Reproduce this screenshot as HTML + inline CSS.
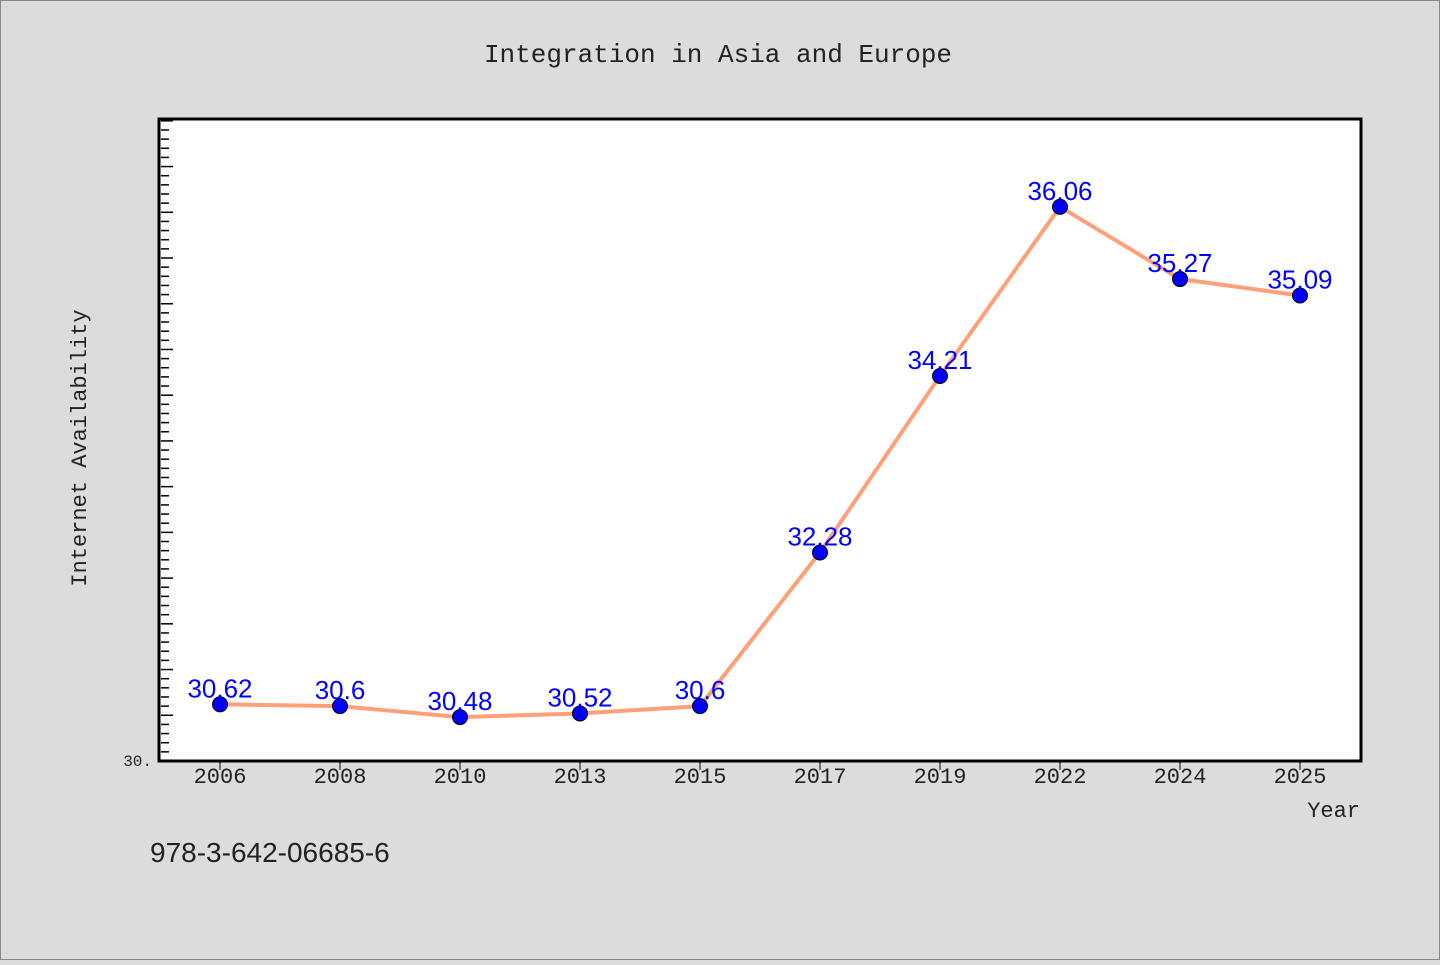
<!DOCTYPE html>
<html><head><meta charset="utf-8"><style>
body{margin:0;background:#dcdcdc;}
svg text{font-family:"Liberation Mono","DejaVu Sans Mono",monospace;}
</style></head><body>
<svg width="1440" height="960">
<rect x="0.5" y="0.5" width="1439" height="959" fill="#dcdcdc" stroke="#888"/>
<text x="718" y="62" font-size="26" text-anchor="middle" fill="#222">Integration in Asia and Europe</text>
<rect x="159" y="119" width="1202" height="642" fill="#fff"/>
<g id="ticks"></g>
<g id="series"></g>
<rect x="159" y="119" width="1202" height="642" fill="none" stroke="#000" stroke-width="3"/>
<text x="152" y="766" font-size="16" text-anchor="end" fill="#222">30.</text>
<text x="86" y="448" font-size="22" text-anchor="middle" fill="#222" transform="rotate(-90 86 448)">Internet Availability</text>
<text x="1360" y="817" font-size="22" text-anchor="end" fill="#222">Year</text>
<text x="150" y="862" font-size="28" fill="#222" font-family="Liberation Sans, sans-serif" style="font-family:'Liberation Sans',sans-serif">978-3-642-06685-6</text>
</svg>
<script>
const categories=["2006","2008","2010","2013","2015","2017","2019","2022","2024","2025"];
const values=[30.62,30.6,30.48,30.52,30.6,32.28,34.21,36.06,35.27,35.09];
const yMin=30, yMax=37.02;
const NS="http://www.w3.org/2000/svg";
const x=i=>220+i*120;
const y=v=>761-(v-yMin)/(yMax-yMin)*642;
const tk=document.getElementById('ticks'), sr=document.getElementById('series');
function mk(t,a,p){const e=document.createElementNS(NS,t);for(const k in a)e.setAttribute(k,a[k]);p.appendChild(e);return e;}
for(let k=1;k<=70;k++){const v=yMin+k*0.1;if(v>yMax)break;const maj=k%5==0;
const l=mk('line',{x1:161,x2:maj?173:169,y1:y(v),y2:y(v),stroke:'#000','stroke-width':1.5},tk);

}
categories.forEach((c,i)=>{
const l=mk('line',{x1:x(i),x2:x(i),y1:761,y2:770,stroke:'#000','stroke-width':1},tk);


const t=mk('text',{x:x(i),y:783,'font-size':22,'text-anchor':'middle',fill:'#222'},tk);t.textContent=c;

});
const pl=mk('polyline',{points:values.map((v,i)=>x(i)+','+y(v)).join(' '),fill:'none',stroke:'#ffa07a','stroke-width':4},sr);


values.forEach((v,i)=>{
const c=mk('circle',{cx:x(i),cy:y(v),r:7.5,fill:'#0000ff',stroke:'#000','stroke-width':1},sr);


const t=mk('text',{x:x(i),y:y(v)-7,'font-size':26,'text-anchor':'middle',fill:'#0000ff'},sr);
t.setAttribute('style',"font-family:'Liberation Sans',sans-serif");
t.textContent=String(v);

});
</script>
</body></html>
